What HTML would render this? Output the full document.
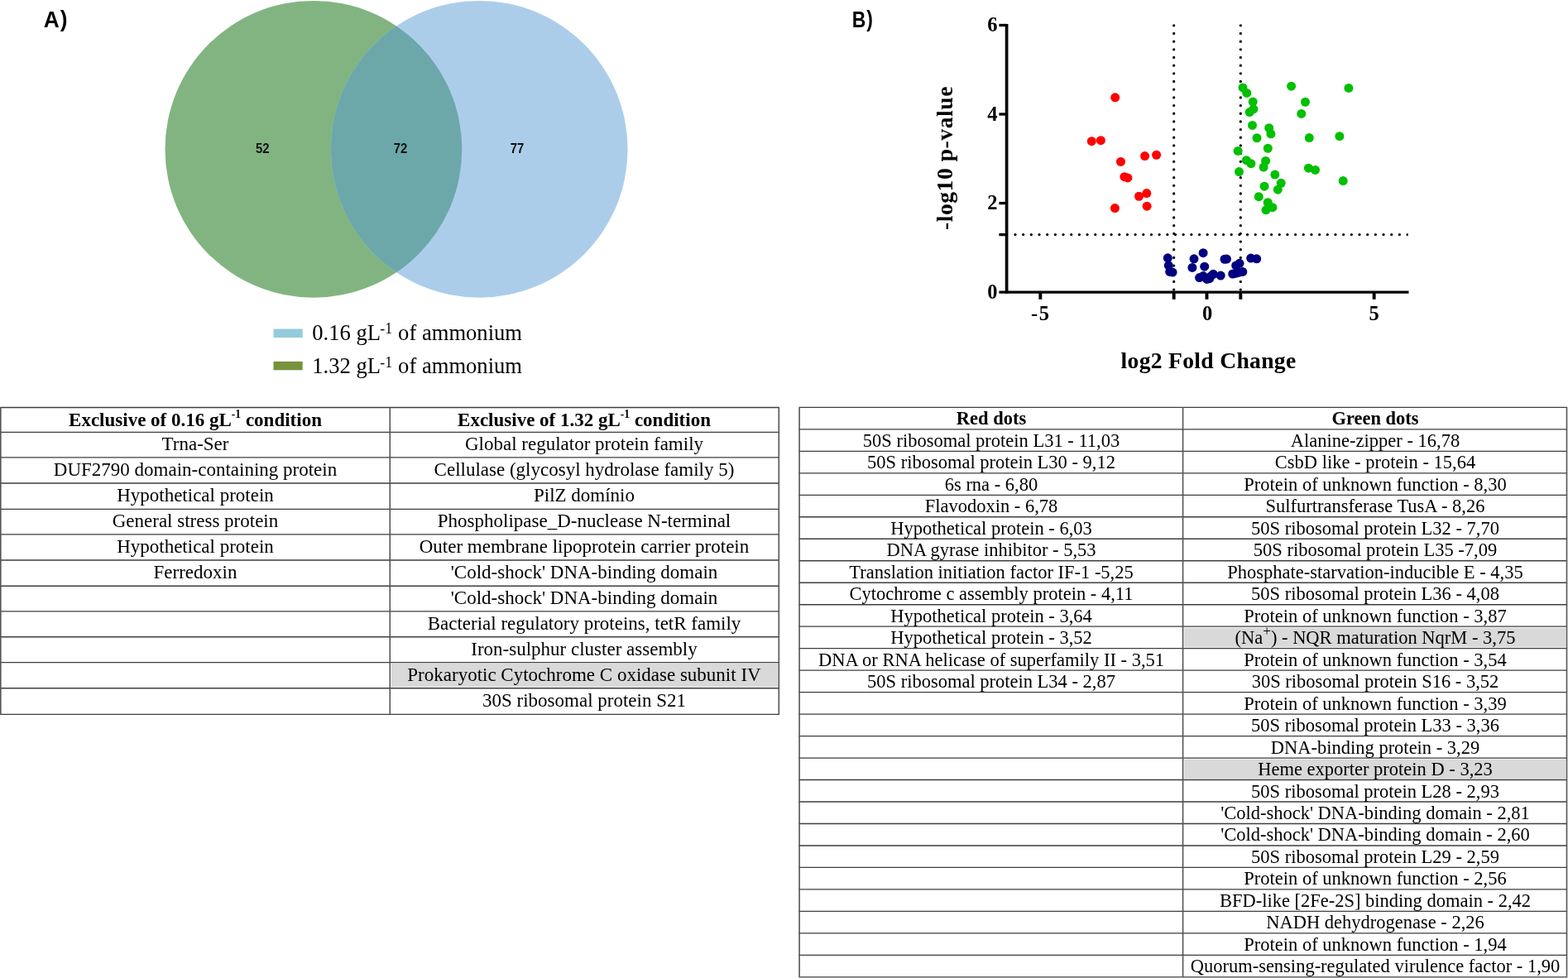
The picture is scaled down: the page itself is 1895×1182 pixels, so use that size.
<!DOCTYPE html>
<html lang="en">
<head>
<meta charset="utf-8">
<title>Figure: exclusive proteins and volcano plot</title>
<style>
html,body{margin:0;padding:0;background:#fff;}
body{width:1895px;height:1182px;position:relative;overflow:hidden;font-family:"Liberation Serif",serif;color:#000;}
svg.art{position:absolute;left:0;top:0;display:block;}
table{position:absolute;border-collapse:separate;border-spacing:0;table-layout:fixed;margin:0;padding:0;}
th,td{padding:0;margin:0;border:0;text-align:center;vertical-align:middle;white-space:nowrap;overflow:visible;font-family:"Liberation Serif",serif;line-height:1;}
th{font-weight:bold;}
td{font-weight:normal;}
th span,td span{position:relative;display:inline-block;}
sup{font-size:59%;vertical-align:baseline;position:relative;top:-0.74em;line-height:0;}
sup.p{font-size:76%;top:-0.56em;}
.t1 th,.t1 td{font-size:23.0px;}
.t1 span{top:-1.3px;}
.t1 th span{top:0.6px;}
.t2 th,.t2 td{font-size:22.5px;}
.t2 span{top:0.8px;}
.t2 th span{top:1.0px;}
</style>
</head>
<body>
<svg class="art" width="1895" height="1182" viewBox="0 0 1895 1182">
<defs><clipPath id="cl"><circle cx="378.9" cy="180.3" r="179.4"/></clipPath><clipPath id="pc"><rect x="1200" y="20" width="501.7" height="350"/></clipPath></defs>
<circle cx="378.9" cy="180.3" r="179.4" fill="#82b482"/>
<circle cx="579.2" cy="180.3" r="179.4" fill="#accdea"/>
<circle cx="579.2" cy="180.3" r="179.4" fill="#6ca8aa" clip-path="url(#cl)"/>
<text x="317.2" y="184.6" font-family="'Liberation Sans',sans-serif" font-weight="bold" font-size="16.2" fill="#111" text-anchor="middle" textLength="16.6" lengthAdjust="spacingAndGlyphs">52</text>
<text x="484.0" y="184.6" font-family="'Liberation Sans',sans-serif" font-weight="bold" font-size="16.2" fill="#111" text-anchor="middle" textLength="16.6" lengthAdjust="spacingAndGlyphs">72</text>
<text x="625.0" y="184.6" font-family="'Liberation Sans',sans-serif" font-weight="bold" font-size="16.2" fill="#111" text-anchor="middle" textLength="16.6" lengthAdjust="spacingAndGlyphs">77</text>
<text transform="translate(52.8 33.0) scale(0.975 1.01)" font-family="'Liberation Sans',sans-serif" font-weight="bold" font-size="27" fill="#000">A<tspan dx="1.1" dy="-1.0">)</tspan></text>
<text transform="translate(1029.7 33.4) scale(0.85 1.01)" font-family="'Liberation Sans',sans-serif" font-weight="bold" font-size="27" fill="#000">B<tspan dx="1.3" dy="-1.0">)</tspan></text>
<rect x="330.5" y="397.5" width="35.2" height="10.5" fill="#93cbdd"/>
<rect x="330.5" y="436.9" width="35.2" height="10.4" fill="#76933c"/>
<text x="377.3" y="410.5" font-family="'Liberation Serif',serif" font-size="26.6" fill="#000">0.16 gL<tspan dy="-7.6" dx="-0.8" font-size="17.8">-1</tspan><tspan dy="7.6" dx="0.4"> of ammonium</tspan></text>
<text x="377.3" y="451.1" font-family="'Liberation Serif',serif" font-size="26.6" fill="#000">1.32 gL<tspan dy="-7.6" dx="-0.8" font-size="17.8">-1</tspan><tspan dy="7.6" dx="0.4"> of ammonium</tspan></text>
<path d="M1418.67 30.8 V 352" stroke="#000" stroke-width="3.3" stroke-linecap="round" stroke-dasharray="0 9.675" fill="none"/>
<path d="M1499.33 30.8 V 352" stroke="#000" stroke-width="3.3" stroke-linecap="round" stroke-dasharray="0 9.675" fill="none"/>
<path d="M1227.0 283.6 H 1704" stroke="#000" stroke-width="3.3" stroke-linecap="round" stroke-dasharray="0 9.675" fill="none" clip-path="url(#pc)"/>
<path d="M1216.6 28.9 V 354.8" stroke="#000" stroke-width="3.7" fill="none"/>
<path d="M1207.4 353.1 H 1702.5" stroke="#000" stroke-width="3.3" fill="none"/>
<path d="M1207.4 245.56 H 1217" stroke="#000" stroke-width="3.3" fill="none"/>
<path d="M1207.4 138.02 H 1217" stroke="#000" stroke-width="3.3" fill="none"/>
<path d="M1207.4 30.48 H 1217" stroke="#000" stroke-width="3.3" fill="none"/>
<path d="M1207.4 283.6 H 1217" stroke="#000" stroke-width="3.3" fill="none"/>
<path d="M1257.35 353.1 V 361.8" stroke="#000" stroke-width="3.9" fill="none"/>
<path d="M1418.67 353.1 V 361.8" stroke="#000" stroke-width="3.9" fill="none"/>
<path d="M1458.48 353.1 V 361.8" stroke="#000" stroke-width="3.9" fill="none"/>
<path d="M1499.33 353.1 V 361.8" stroke="#000" stroke-width="3.9" fill="none"/>
<path d="M1660.65 353.1 V 361.8" stroke="#000" stroke-width="3.9" fill="none"/>
<g fill="#ff0000"><circle cx="1347.7" cy="117.85" r="5.5"/><circle cx="1319.3" cy="170.65" r="5.5"/><circle cx="1330.4" cy="169.65" r="5.5"/><circle cx="1383.6" cy="188.55" r="5.5"/><circle cx="1397.6" cy="187.25" r="5.5"/><circle cx="1354.5" cy="195.45" r="5.5"/><circle cx="1358.9" cy="213.65" r="5.5"/><circle cx="1362.9" cy="214.95" r="5.5"/><circle cx="1385.8" cy="233.55" r="5.5"/><circle cx="1376.5" cy="237.25" r="5.5"/><circle cx="1386.1" cy="249.15" r="5.5"/><circle cx="1347.4" cy="251.55" r="5.5"/></g>
<g fill="#00c000"><circle cx="1502.0" cy="105.95" r="5.5"/><circle cx="1506.8" cy="112.45" r="5.5"/><circle cx="1560.6" cy="104.15" r="5.5"/><circle cx="1514.2" cy="123.05" r="5.5"/><circle cx="1577.5" cy="123.25" r="5.5"/><circle cx="1514.9" cy="131.85" r="5.5"/><circle cx="1510.2" cy="135.55" r="5.5"/><circle cx="1572.8" cy="137.45" r="5.5"/><circle cx="1513.5" cy="151.45" r="5.5"/><circle cx="1533.7" cy="154.75" r="5.5"/><circle cx="1535.9" cy="161.85" r="5.5"/><circle cx="1519.0" cy="166.75" r="5.5"/><circle cx="1582.3" cy="166.55" r="5.5"/><circle cx="1532.3" cy="179.25" r="5.5"/><circle cx="1496.1" cy="182.45" r="5.5"/><circle cx="1506.3" cy="193.65" r="5.5"/><circle cx="1511.9" cy="197.65" r="5.5"/><circle cx="1529.6" cy="194.45" r="5.5"/><circle cx="1527.1" cy="202.05" r="5.5"/><circle cx="1497.5" cy="207.55" r="5.5"/><circle cx="1581.4" cy="203.15" r="5.5"/><circle cx="1589.5" cy="205.45" r="5.5"/><circle cx="1540.8" cy="211.05" r="5.5"/><circle cx="1548.2" cy="221.35" r="5.5"/><circle cx="1528.1" cy="225.15" r="5.5"/><circle cx="1544.3" cy="229.15" r="5.5"/><circle cx="1521.3" cy="237.65" r="5.5"/><circle cx="1532.2" cy="244.75" r="5.5"/><circle cx="1537.9" cy="250.65" r="5.5"/><circle cx="1530.0" cy="253.85" r="5.5"/><circle cx="1629.9" cy="106.45" r="5.5"/><circle cx="1618.9" cy="164.65" r="5.5"/><circle cx="1623.2" cy="218.55" r="5.5"/></g>
<g fill="#000080"><circle cx="1411.3" cy="311.85" r="5.5"/><circle cx="1412.3" cy="320.85" r="5.5"/><circle cx="1413.7" cy="328.45" r="5.5"/><circle cx="1417.1" cy="329.05" r="5.5"/><circle cx="1454.1" cy="305.65" r="5.5"/><circle cx="1443.0" cy="312.85" r="5.5"/><circle cx="1440.9" cy="323.45" r="5.5"/><circle cx="1455.7" cy="322.15" r="5.5"/><circle cx="1480.0" cy="313.25" r="5.5"/><circle cx="1482.5" cy="313.05" r="5.5"/><circle cx="1498.0" cy="318.35" r="5.5"/><circle cx="1493.7" cy="320.95" r="5.5"/><circle cx="1511.7" cy="312.05" r="5.5"/><circle cx="1518.7" cy="312.85" r="5.5"/><circle cx="1501.8" cy="328.45" r="5.5"/><circle cx="1496.8" cy="329.25" r="5.5"/><circle cx="1493.2" cy="330.35" r="5.5"/><circle cx="1489.7" cy="331.05" r="5.5"/><circle cx="1475.2" cy="333.05" r="5.5"/><circle cx="1466.3" cy="331.35" r="5.5"/><circle cx="1454.1" cy="333.55" r="5.5"/><circle cx="1449.6" cy="335.55" r="5.5"/><circle cx="1458.7" cy="337.45" r="5.5"/><circle cx="1461.7" cy="336.65" r="5.5"/><circle cx="1463.3" cy="333.85" r="5.5"/></g>
<text x="1205.4" y="360.70" font-family="'Liberation Serif',serif" font-weight="bold" font-size="24.5" fill="#000" text-anchor="end">0</text>
<text x="1205.4" y="253.16" font-family="'Liberation Serif',serif" font-weight="bold" font-size="24.5" fill="#000" text-anchor="end">2</text>
<text x="1205.4" y="145.62" font-family="'Liberation Serif',serif" font-weight="bold" font-size="24.5" fill="#000" text-anchor="end">4</text>
<text x="1205.4" y="38.08" font-family="'Liberation Serif',serif" font-weight="bold" font-size="24.5" fill="#000" text-anchor="end">6</text>
<text x="1246.0" y="387.0" font-family="'Liberation Serif',serif" font-weight="bold" font-size="24.5" fill="#000">-<tspan dx="1.6">5</tspan></text>
<text x="1459.00" y="387.0" font-family="'Liberation Serif',serif" font-weight="bold" font-size="24.5" fill="#000" text-anchor="middle">0</text>
<text x="1660.65" y="387.0" font-family="'Liberation Serif',serif" font-weight="bold" font-size="24.5" fill="#000" text-anchor="middle">5</text>
<text x="1354.6" y="445.1" font-family="'Liberation Serif',serif" font-weight="bold" font-size="27.6" fill="#000" textLength="211.6" lengthAdjust="spacing">log2 Fold Change</text>
<text transform="translate(1151.4 278.0) rotate(-90)" x="0" y="0" font-family="'Liberation Serif',serif" font-weight="bold" font-size="27.6" fill="#000" textLength="173.4" lengthAdjust="spacing">-log10 p-value</text>
<rect x="473.00" y="802.10" width="466.80" height="28.30" fill="#d9d9d9"/>
<path d="M0.20 492.50H941.90M0.20 522.40H941.90M0.20 552.80H941.90M0.20 584.00H941.90M0.20 615.40H941.90M0.20 645.80H941.90M0.20 677.00H941.90M0.20 708.20H941.90M0.20 738.90H941.90M0.20 769.70H941.90M0.20 800.60H941.90M0.20 831.70H941.90M0.20 863.30H941.90" stroke="#3e3e3e" stroke-width="1.35" fill="none"/>
<path d="M0.80 492.50V863.30M471.30 492.50V863.30M941.30 492.50V863.30" stroke="#555" stroke-width="1.6" fill="none"/>
<rect x="1431.30" y="758.68" width="460.70" height="23.68" fill="#d9d9d9"/>
<rect x="1431.30" y="917.55" width="460.70" height="23.68" fill="#d9d9d9"/>
<path d="M965.50 492.40H1894.10M965.50 518.88H1894.10M965.50 545.36H1894.10M965.50 571.83H1894.10M965.50 598.31H1894.10M965.50 624.79H1894.10M965.50 651.27H1894.10M965.50 677.75H1894.10M965.50 704.22H1894.10M965.50 730.70H1894.10M965.50 757.18H1894.10M965.50 783.66H1894.10M965.50 810.14H1894.10M965.50 836.61H1894.10M965.50 863.09H1894.10M965.50 889.57H1894.10M965.50 916.05H1894.10M965.50 942.53H1894.10M965.50 969.00H1894.10M965.50 995.48H1894.10M965.50 1021.96H1894.10M965.50 1048.44H1894.10M965.50 1074.92H1894.10M965.50 1101.39H1894.10M965.50 1127.87H1894.10M965.50 1154.35H1894.10M965.50 1180.83H1894.10" stroke="#3e3e3e" stroke-width="1.35" fill="none"/>
<path d="M966.10 492.40V1180.83M1429.60 492.40V1180.83M1893.50 492.40V1180.83" stroke="#555" stroke-width="1.6" fill="none"/>
</svg>
<table class="t1" style="left:1px;top:492px;width:940px">
<colgroup><col style="width:470px"><col style="width:470px"></colgroup>
<tr style="height:30px"><th><span>Exclusive of 0.16 gL<sup>-1</sup> condition</span></th><th><span>Exclusive of 1.32 gL<sup>-1</sup> condition</span></th></tr>
<tr style="height:31px"><td><span>Trna-Ser</span></td><td><span>Global regulator protein family</span></td></tr>
<tr style="height:31px"><td><span>DUF2790 domain-containing protein</span></td><td><span>Cellulase (glycosyl hydrolase family 5)</span></td></tr>
<tr style="height:31px"><td><span>Hypothetical protein</span></td><td><span>PilZ domínio</span></td></tr>
<tr style="height:31px"><td><span>General stress protein</span></td><td><span>Phospholipase_D-nuclease N-terminal</span></td></tr>
<tr style="height:31px"><td><span>Hypothetical protein</span></td><td><span>Outer membrane lipoprotein carrier protein</span></td></tr>
<tr style="height:31px"><td><span>Ferredoxin</span></td><td><span>'Cold-shock' DNA-binding domain</span></td></tr>
<tr style="height:31px"><td></td><td><span>'Cold-shock' DNA-binding domain</span></td></tr>
<tr style="height:31px"><td></td><td><span>Bacterial regulatory proteins, tetR family</span></td></tr>
<tr style="height:31px"><td></td><td><span>Iron-sulphur cluster assembly</span></td></tr>
<tr style="height:31px"><td></td><td><span>Prokaryotic Cytochrome C oxidase subunit IV</span></td></tr>
<tr style="height:31px"><td></td><td><span>30S ribosomal protein S21</span></td></tr>
</table>
<table class="t2" style="left:966px;top:492px;width:928px">
<colgroup><col style="width:464px"><col style="width:464px"></colgroup>
<tr style="height:27px"><th><span>Red dots</span></th><th><span>Green dots</span></th></tr>
<tr style="height:26px"><td><span>50S ribosomal protein L31 - 11,03</span></td><td><span>Alanine-zipper - 16,78</span></td></tr>
<tr style="height:27px"><td><span>50S ribosomal protein L30 - 9,12</span></td><td><span>CsbD like - protein - 15,64</span></td></tr>
<tr style="height:26px"><td><span>6s rna - 6,80</span></td><td><span>Protein of unknown function - 8,30</span></td></tr>
<tr style="height:27px"><td><span>Flavodoxin - 6,78</span></td><td><span>Sulfurtransferase TusA - 8,26</span></td></tr>
<tr style="height:26px"><td><span>Hypothetical protein - 6,03</span></td><td><span>50S ribosomal protein L32 - 7,70</span></td></tr>
<tr style="height:27px"><td><span>DNA gyrase inhibitor - 5,53</span></td><td><span>50S ribosomal protein L35 -7,09</span></td></tr>
<tr style="height:26px"><td><span>Translation initiation factor IF-1 -5,25</span></td><td><span>Phosphate-starvation-inducible E - 4,35</span></td></tr>
<tr style="height:27px"><td><span>Cytochrome c assembly protein - 4,11</span></td><td><span>50S ribosomal protein L36 - 4,08</span></td></tr>
<tr style="height:26px"><td><span>Hypothetical protein - 3,64</span></td><td><span>Protein of unknown function - 3,87</span></td></tr>
<tr style="height:27px"><td><span>Hypothetical protein - 3,52</span></td><td><span>(Na<sup class="p">+</sup>) - NQR maturation NqrM - 3,75</span></td></tr>
<tr style="height:26px"><td><span>DNA or RNA helicase of superfamily II - 3,51</span></td><td><span>Protein of unknown function - 3,54</span></td></tr>
<tr style="height:27px"><td><span>50S ribosomal protein L34 - 2,87</span></td><td><span>30S ribosomal protein S16 - 3,52</span></td></tr>
<tr style="height:26px"><td></td><td><span>Protein of unknown function - 3,39</span></td></tr>
<tr style="height:27px"><td></td><td><span>50S ribosomal protein L33 - 3,36</span></td></tr>
<tr style="height:26px"><td></td><td><span>DNA-binding protein - 3,29</span></td></tr>
<tr style="height:27px"><td></td><td><span>Heme exporter protein D - 3,23</span></td></tr>
<tr style="height:26px"><td></td><td><span>50S ribosomal protein L28 - 2,93</span></td></tr>
<tr style="height:26px"><td></td><td><span>'Cold-shock' DNA-binding domain - 2,81</span></td></tr>
<tr style="height:27px"><td></td><td><span>'Cold-shock' DNA-binding domain - 2,60</span></td></tr>
<tr style="height:26px"><td></td><td><span>50S ribosomal protein L29 - 2,59</span></td></tr>
<tr style="height:27px"><td></td><td><span>Protein of unknown function - 2,56</span></td></tr>
<tr style="height:26px"><td></td><td><span>BFD-like [2Fe-2S] binding domain - 2,42</span></td></tr>
<tr style="height:27px"><td></td><td><span>NADH dehydrogenase - 2,26</span></td></tr>
<tr style="height:26px"><td></td><td><span>Protein of unknown function - 1,94</span></td></tr>
<tr style="height:27px"><td></td><td><span>Quorum-sensing-regulated virulence factor - 1,90</span></td></tr>
</table>
</body>
</html>
